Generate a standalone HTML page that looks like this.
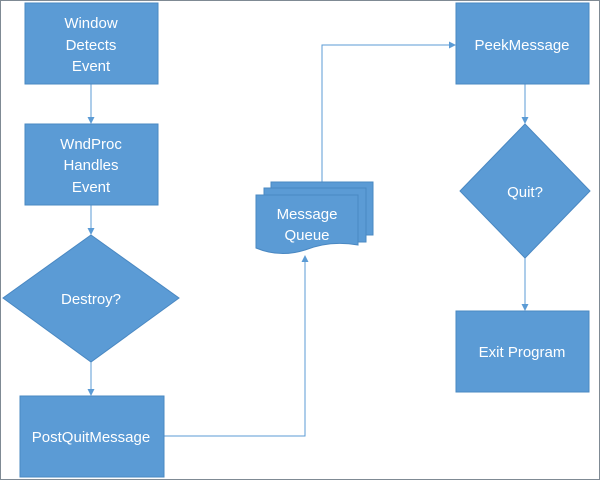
<!DOCTYPE html>
<html><head><style>body{margin:0;background:#fff}svg{display:block}text{font-family:"Liberation Sans",sans-serif;font-size:15px;fill:#fff;text-anchor:middle}</style></head><body>
<svg width="600" height="480" viewBox="0 0 600 480">
<defs><marker id="a" markerWidth="7" markerHeight="7" refX="6" refY="3.5" orient="auto" markerUnits="userSpaceOnUse"><path d="M0,0 L7,3.5 L0,7 z" fill="#5b9bd5"/></marker></defs>
<rect x="0.5" y="0.5" width="599" height="479" fill="#fff" stroke="#7f8a94"/>
<g stroke="#5b9bd5" stroke-width="1" fill="none">
<line x1="91" y1="84" x2="91" y2="123" marker-end="url(#a)"/>
<line x1="91" y1="205" x2="91" y2="234" marker-end="url(#a)"/>
<line x1="91" y1="362" x2="91" y2="395" marker-end="url(#a)"/>
<polyline points="164,436 305,436 305,256" marker-end="url(#a)"/>
<polyline points="322,182 322,45 455,45" marker-end="url(#a)"/>
<line x1="525" y1="84" x2="525" y2="123" marker-end="url(#a)"/>
<line x1="525" y1="258" x2="525" y2="310" marker-end="url(#a)"/>
</g>
<g fill="#5b9bd5" stroke="#4a88c2">
<rect x="25" y="3" width="133" height="81"/>
<rect x="25" y="124" width="133" height="81"/>
<polygon points="91,235 179,298 91,362 3,298"/>
<rect x="20" y="396" width="144" height="81"/>
<rect x="456" y="3" width="133" height="81"/>
<polygon points="525,124 590,191 525,258 460,191"/>
<rect x="456" y="311" width="133" height="81"/>
<path d="M271,182 H373 V235 H271 Z"/>
<path d="M264,188 H366 V242 H264 Z"/>
<path d="M256,195 H358 V245 Q330,240 305,250 Q280,258 256,248 Z"/>
</g>
<text x="91" y="28">Window</text><text x="91" y="50">Detects</text><text x="91" y="71">Event</text>
<text x="91" y="149">WndProc</text><text x="91" y="170">Handles</text><text x="91" y="192">Event</text>
<text x="91" y="304">Destroy?</text>
<text x="91" y="442">PostQuitMessage</text>
<text x="307" y="219">Message</text><text x="307" y="240">Queue</text>
<text x="522" y="50">PeekMessage</text>
<text x="525" y="197">Quit?</text>
<text x="522" y="357">Exit Program</text>
</svg>
</body></html>
